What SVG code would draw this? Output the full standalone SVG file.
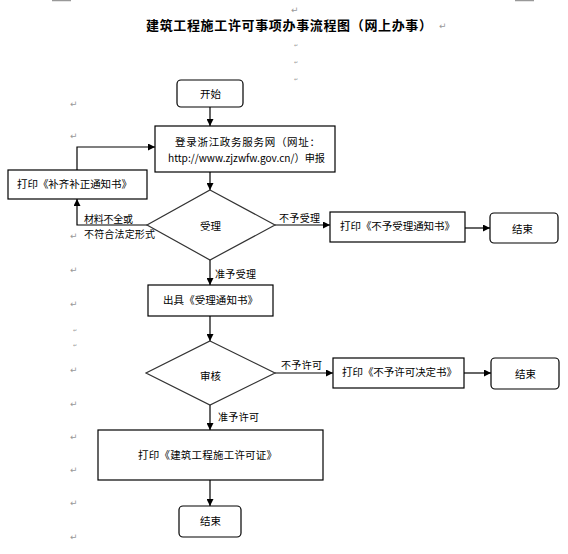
<svg xmlns="http://www.w3.org/2000/svg" width="568" height="554" viewBox="0 0 568 554">
<style>
.t{font-family:"Noto Sans CJK SC","Noto Sans",sans-serif;font-size:10.5px;fill:#000}
.l{font-family:"Noto Sans CJK SC","Noto Sans",sans-serif;font-size:10px;fill:#000}
.title{font-family:"Noto Sans CJK SC",sans-serif;font-size:13px;font-weight:bold;fill:#000}
.box{fill:#fff;stroke:#000;stroke-width:1.2}
.dia{fill:#fff;stroke:#333;stroke-width:1.2}
.c{fill:none;stroke:#000;stroke-width:1.2}
.pm{font-family:"DejaVu Sans",sans-serif;font-size:9px;fill:#999}
.sm{font-family:"DejaVu Sans",sans-serif;font-size:5px;fill:#999}
</style>
<defs>
<marker id="ah" viewBox="0 0 10 10" refX="10" refY="5" markerWidth="7" markerHeight="7" markerUnits="userSpaceOnUse" orient="auto">
<path d="M0,0 L10,5 L0,10 z" fill="#000"/>
</marker>
</defs>
<rect width="568" height="554" fill="#fff"/>
<g id="page-marks">
<line x1="52" y1="0.5" x2="71" y2="0.5" stroke="#999" stroke-width="1.5"/>
<line x1="515" y1="0.5" x2="534" y2="0.5" stroke="#999" stroke-width="1.5"/>
<text class="pm" x="291" y="13">↵</text>
<text class="pm" x="439" y="29">↵</text>
<text class="sm" x="294" y="47">↵</text>
<text class="sm" x="294" y="64">↵</text>
<text class="sm" x="294" y="81">↵</text>
<text class="pm" x="70" y="107">↵</text>
<text class="pm" x="70" y="139">↵</text>
<text class="pm" x="70" y="239">↵</text>
<text class="pm" x="70" y="273">↵</text>
<text class="pm" x="70" y="307">↵</text>
<text class="sm" x="73" y="332">↵</text>
<text class="sm" x="73" y="347">↵</text>
<text class="pm" x="70" y="373">↵</text>
<text class="pm" x="70" y="407">↵</text>
<text class="pm" x="70" y="440">↵</text>
<text class="pm" x="70" y="473">↵</text>
<text class="pm" x="70" y="506">↵</text>
<text class="pm" x="70" y="540">↵</text>
</g>
<text id="title" class="title" x="146" y="30" textLength="286" lengthAdjust="spacing">建筑工程施工许可事项办事流程图（网上办事）</text>
<g id="connectors">
<line class="c" x1="210" y1="107" x2="210" y2="126" marker-end="url(#ah)"/>
<line class="c" x1="210" y1="172" x2="210" y2="190" marker-end="url(#ah)"/>
<polyline class="c" points="147,225 77,225 77,199" marker-end="url(#ah)"/>
<polyline class="c" points="77,170 77,147 155,147" marker-end="url(#ah)"/>
<line class="c" x1="275" y1="225" x2="330" y2="225" marker-end="url(#ah)"/>
<line class="c" x1="465" y1="228" x2="490" y2="228" marker-end="url(#ah)"/>
<line class="c" x1="210" y1="260" x2="210" y2="285" marker-end="url(#ah)"/>
<line class="c" x1="210" y1="316" x2="210" y2="341" marker-end="url(#ah)"/>
<line class="c" x1="275" y1="373" x2="333" y2="373" marker-end="url(#ah)"/>
<line class="c" x1="464" y1="373" x2="491" y2="373" marker-end="url(#ah)"/>
<line class="c" x1="210" y1="405" x2="210" y2="430" marker-end="url(#ah)"/>
<line class="c" x1="210" y1="480" x2="210" y2="506" marker-end="url(#ah)"/>
<text class="l" x="84" y="223" textLength="49" lengthAdjust="spacing">材料不全或</text>
<text class="l" x="84" y="238" textLength="71" lengthAdjust="spacing">不符合法定形式</text>
<text class="l" x="279" y="222" textLength="41" lengthAdjust="spacing">不予受理</text>
<text class="l" x="215" y="278" textLength="41" lengthAdjust="spacing">准予受理</text>
<text class="l" x="281" y="369" textLength="41" lengthAdjust="spacing">不予许可</text>
<text class="l" x="218" y="421" textLength="41" lengthAdjust="spacing">准予许可</text>
</g>
<g id="start">
<rect class="box" x="177" y="80" width="66" height="27" rx="4"/>
<text class="t" x="200" y="98">开始</text>
</g>
<g id="login">
<rect class="box" x="155" y="126" width="180" height="46"/>
<text class="t" x="175" y="146" textLength="145" lengthAdjust="spacing">登录浙江政务服务网（网址：</text>
<text class="t" x="168" y="162" textLength="157" lengthAdjust="spacingAndGlyphs">http://www.zjzwfw.gov.cn/）申报</text>
</g>
<g id="supplement">
<rect class="box" x="8" y="170" width="139" height="29"/>
<text class="t" x="17" y="188" textLength="115" lengthAdjust="spacing">打印《补齐补正通知书》</text>
</g>
<g id="accept">
<polygon class="dia" points="210,190 275,225 210,260 147,225"/>
<text class="t" x="200" y="230">受理</text>
</g>
<g id="reject-accept">
<rect class="box" x="330" y="212" width="135" height="30"/>
<text class="t" x="340" y="230" textLength="115" lengthAdjust="spacing">打印《不予受理通知书》</text>
</g>
<g id="end1">
<rect class="box" x="490" y="213" width="68" height="30" rx="4"/>
<text class="t" x="512" y="233">结束</text>
</g>
<g id="accept-notice">
<rect class="box" x="148" y="285" width="125" height="31"/>
<text class="t" x="163" y="304" textLength="95" lengthAdjust="spacing">出具《受理通知书》</text>
</g>
<g id="review">
<polygon class="dia" points="210,341 275,373 210,405 146,373"/>
<text class="t" x="200" y="380">审核</text>
</g>
<g id="reject-permit">
<rect class="box" x="333" y="358" width="131" height="30"/>
<text class="t" x="342" y="376" textLength="115" lengthAdjust="spacing">打印《不予许可决定书》</text>
</g>
<g id="end2">
<rect class="box" x="491" y="358" width="68" height="31" rx="4"/>
<text class="t" x="515" y="378">结束</text>
</g>
<g id="permit">
<rect class="box" x="98" y="430" width="225" height="50"/>
<text class="t" x="138" y="459" textLength="139" lengthAdjust="spacing">打印《建筑工程施工许可证》</text>
</g>
<g id="end3">
<rect class="box" x="179" y="506" width="62" height="31" rx="4"/>
<text class="t" x="200" y="525">结束</text>
</g>
</svg>
